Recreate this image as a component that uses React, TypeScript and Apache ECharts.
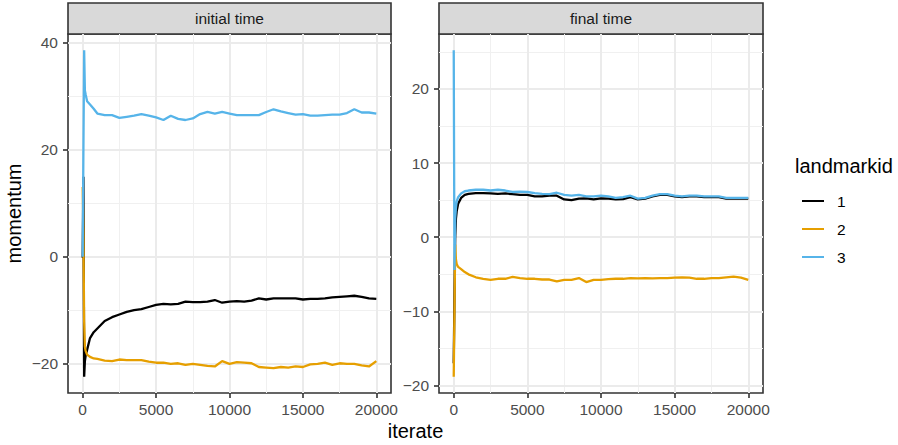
import React, { useEffect, useRef } from "react";
import * as echarts from "echarts";

const iterate = [0, 50, 100, 150, 200, 300, 500, 750, 1000, 1500,
  2000, 2500, 3000, 3500, 4000, 4500, 5000, 5500, 6000, 6500,
  7000, 7500, 8000, 8500, 9000, 9500, 10000, 10500, 11000, 11500,
  12000, 12500, 13000, 13500, 14000, 14500, 15000, 15500, 16000, 16500,
  17000, 17500, 18000, 18500, 19000, 19500, 20000];

// initial time
const initLm1 = [-0.2, 14.9, -22.4, -19.5, -18.5, -17.4, -15.2, -14.1, -13.4, -12.0,
  -11.3, -10.8, -10.3, -10.0, -9.8, -9.4, -9.0, -8.8, -8.9, -8.8,
  -8.4, -8.5, -8.5, -8.4, -8.1, -8.6, -8.4, -8.3, -8.4, -8.2,
  -7.8, -8.0, -7.8, -7.8, -7.8, -7.8, -8.0, -7.9, -7.9, -7.8,
  -7.6, -7.5, -7.4, -7.3, -7.5, -7.8, -7.9];
const initLm2 = [13, 4, -12, -16.8, -17.6, -18.3, -18.7, -19.0, -19.1, -19.4,
  -19.5, -19.2, -19.3, -19.3, -19.3, -19.6, -19.8, -19.8, -20.0, -19.9,
  -20.2, -20.0, -20.2, -20.4, -20.5, -19.5, -20.0, -19.7, -19.8, -19.9,
  -20.6, -20.7, -20.8, -20.6, -20.7, -20.5, -20.6, -20.1, -20.0, -19.8,
  -20.2, -19.9, -20.0, -20.0, -20.3, -20.5, -19.5];
const initLm3 = [0, 20, 38.5, 31, 30.3, 29.0, 28.4, 27.6, 26.7, 26.4,
  26.4, 25.9, 26.1, 26.3, 26.6, 26.3, 26.0, 25.5, 26.3, 25.7,
  25.5, 25.8, 26.6, 27.0, 26.7, 27.0, 26.7, 26.4, 26.4, 26.4,
  26.4, 27.0, 27.5, 27.1, 26.8, 26.5, 26.6, 26.3, 26.3, 26.4,
  26.5, 26.5, 26.8, 27.5, 26.9, 26.9, 26.7];

// final time
const finalLm1 = [-17, -8, 0, 2.5, 3.5, 4.5, 5.3, 5.7, 5.85, 5.95,
  5.95, 5.9, 5.85, 5.9, 5.8, 5.7, 5.7, 5.5, 5.5, 5.6,
  5.6, 5.1, 5.0, 5.2, 5.25, 5.1, 5.25, 5.2, 5.1, 5.15,
  5.4, 5.1, 5.2, 5.5, 5.7, 5.7, 5.5, 5.4, 5.5, 5.5,
  5.4, 5.4, 5.4, 5.2, 5.2, 5.2, 5.2];
const finalLm2 = [-18.8, -10, -1.0, -3.0, -3.6, -4.0, -4.3, -4.7, -5.0, -5.4,
  -5.6, -5.75, -5.6, -5.6, -5.35, -5.5, -5.6, -5.6, -5.7, -5.7,
  -5.95, -5.75, -5.75, -5.5, -6.05, -5.75, -5.75, -5.65, -5.6, -5.6,
  -5.5, -5.55, -5.5, -5.55, -5.5, -5.5, -5.45, -5.4, -5.45, -5.6,
  -5.6, -5.5, -5.5, -5.4, -5.3, -5.45, -5.75];
const finalLm3 = [25.2, -4.4, 2.5, 4.0, 4.8, 5.4, 5.9, 6.2, 6.3, 6.4,
  6.4, 6.3, 6.4, 6.3, 6.1, 6.15, 6.1, 5.95, 5.85, 5.8,
  6.0, 5.7, 5.6, 5.7, 5.5, 5.5, 5.6, 5.5, 5.3, 5.4,
  5.6, 5.2, 5.3, 5.6, 5.8, 5.8, 5.6, 5.5, 5.6, 5.6,
  5.5, 5.5, 5.5, 5.3, 5.3, 5.3, 5.3];

const facets = ["initial time", "final time"];
const landmarkIds = ["1", "2", "3"];
const colors = ["#000000", "#E69F00", "#56B4E9"];
const seriesValues = [
  [initLm1, initLm2, initLm3],
  [finalLm1, finalLm2, finalLm3],
];

const xTicks = [0, 5000, 10000, 15000, 20000];
const xMinor = [2500, 7500, 12500, 17500];
const xRange = [-1000, 21000];
const yTicks = [[-20, 0, 20, 40], [-20, -10, 0, 10, 20]];
const yMinor = [[-10, 10, 30], [-15, -5, 5, 15, 25]];
const yRange = [[-25.45, 41.55], [-21.0, 27.4]];

const FONT = "'Liberation Sans', Arial, Helvetica, sans-serif";
const panels = [
  { left: 68, width: 323 },
  { left: 439, width: 324 },
];
const TOP = 34;
const HEIGHT = 359;

const fmt = (v: number) => String(v).replace("-", "\u2212");

export default function App() {
  const ref = useRef<HTMLDivElement>(null);
  useEffect(() => {
    document.body.style.margin = "0";
    const chart = echarts.init(ref.current!, null, { renderer: "svg" });
    const grids: any[] = [];
    const xAxes: any[] = [];
    const yAxes: any[] = [];
    const series: any[] = [];
    const graphics: any[] = [];
    panels.forEach((p, f) => {
      grids.push({
        left: p.left, top: TOP, width: p.width, height: HEIGHT,
        show: true, borderColor: "#333333", borderWidth: 1.6, backgroundColor: "#ffffff",
        containLabel: false,
      });
      // major x
      xAxes.push({
        type: "value", gridIndex: f, min: xRange[0], max: xRange[1], position: "bottom",
        axisLine: { show: false, onZero: false },
        axisTick: { show: true, length: 5, lineStyle: { color: "#333333", width: 1.6 }, customValues: xTicks },
        axisLabel: { show: true, customValues: xTicks, margin: 8, color: "#4d4d4d", fontSize: 15.5, fontFamily: FONT, formatter: (v: number) => fmt(v) },
        splitLine: { show: true, lineStyle: { color: "#ebebeb", width: 2 } },
        z: 1,
      });
      // minor x
      xAxes.push({
        type: "value", gridIndex: f, min: xRange[0], max: xRange[1], position: "bottom",
        axisLine: { show: false, onZero: false },
        axisTick: { show: false, customValues: xMinor },
        axisLabel: { show: false, customValues: xMinor },
        splitLine: { show: true, lineStyle: { color: "#f0f0f0", width: 1 } },
        z: 0,
      });
      yAxes.push({
        type: "value", gridIndex: f, min: yRange[f][0], max: yRange[f][1], position: "left",
        axisLine: { show: false, onZero: false },
        axisTick: { show: true, length: 5, lineStyle: { color: "#333333", width: 1.6 }, customValues: yTicks[f] },
        axisLabel: { show: true, customValues: yTicks[f], margin: 10, color: "#4d4d4d", fontSize: 15.5, fontFamily: FONT, formatter: (v: number) => fmt(v) },
        splitLine: { show: true, lineStyle: { color: "#ebebeb", width: 2 } },
        z: 1,
      });
      yAxes.push({
        type: "value", gridIndex: f, min: yRange[f][0], max: yRange[f][1], position: "left",
        axisLine: { show: false, onZero: false },
        axisTick: { show: false, customValues: yMinor[f] },
        axisLabel: { show: false, customValues: yMinor[f] },
        splitLine: { show: true, lineStyle: { color: "#f0f0f0", width: 1 } },
        z: 0,
      });
      landmarkIds.forEach((id, k) => {
        series.push({
          type: "line", name: id, xAxisIndex: f * 2, yAxisIndex: f * 2,
          data: iterate.map((x, i) => [x, seriesValues[f][k][i]]),
          showSymbol: false, symbol: "none",
          lineStyle: { color: colors[k], width: 2.3 },
          itemStyle: { color: colors[k] },
          emphasis: { disabled: true },
          z: 3 + k,
        });
      });
      graphics.push({
        type: "rect", shape: { x: p.left, y: 3, width: p.width, height: TOP - 3 },
        style: { fill: "#d9d9d9", stroke: "#333333", lineWidth: 1.6 },
      });
      graphics.push({
        type: "text", x: p.left + p.width / 2, y: 3 + (TOP - 3) / 2,
        style: { text: facets[f], fill: "#1a1a1a", fontSize: 15.5, fontFamily: FONT, textAlign: "center", textVerticalAlign: "middle" },
      });
    });
    graphics.push({
      type: "text", x: 14, y: TOP + HEIGHT / 2, rotation: Math.PI / 2,
      style: { text: "momentum", fill: "#000000", fontSize: 20, fontFamily: FONT, textAlign: "center", textVerticalAlign: "middle" },
    });
    graphics.push({
      type: "text", x: 415.5, y: 431,
      style: { text: "iterate", fill: "#000000", fontSize: 20, fontFamily: FONT, textAlign: "center", textVerticalAlign: "middle" },
    });
    graphics.push({
      type: "text", x: 795, y: 166,
      style: { text: "landmarkid", fill: "#000000", fontSize: 20, fontFamily: FONT, textAlign: "left", textVerticalAlign: "middle" },
    });
    chart.setOption({
      animation: false,
      backgroundColor: "#ffffff",
      grid: grids,
      xAxis: xAxes,
      yAxis: yAxes,
      series,
      legend: {
        data: landmarkIds, orient: "vertical", left: 797, top: 188,
        icon: "rect", itemWidth: 22, itemHeight: 2, itemGap: 12,
        selectedMode: false,
        textStyle: { fontSize: 15.5, color: "#000000", fontFamily: FONT, padding: [0, 0, 0, 8] },
      },
      graphic: graphics,
    });
    return () => chart.dispose();
  }, []);
  return <div ref={ref} style={{ width: 898, height: 445 }} />;
}
